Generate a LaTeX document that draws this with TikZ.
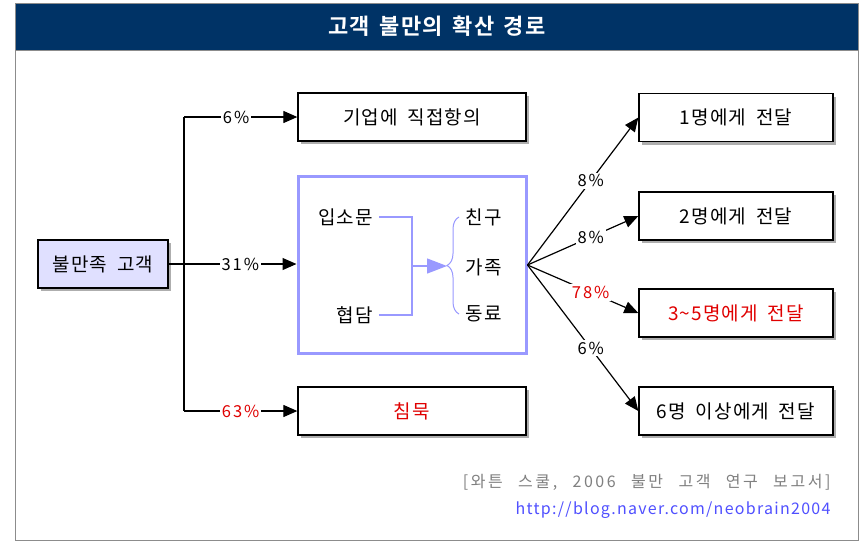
\documentclass[tikz,border=0pt]{standalone}
\usepackage{fontspec}
\setmainfont{Noto Sans CJK KR}
\newfontfamily\kr{Noto Sans CJK KR}[LetterSpace=6,WordSpace=1.8]
\newfontfamily\krp{Noto Sans CJK KR}[LetterSpace=12]
\newfontfamily\krf{Noto Sans CJK KR}[LetterSpace=16,WordSpace=2.5]
\newfontfamily\krb{Noto Sans CJK KR Bold}[LetterSpace=6,WordSpace=1.5]
\newfontfamily\urlf{Noto Sans CJK KR}[LetterSpace=8]
\usetikzlibrary{arrows.meta,shadows,decorations.pathreplacing}
\definecolor{navy}{HTML}{003366}
\definecolor{lav}{HTML}{E0E0FF}
\definecolor{bluebord}{HTML}{9999FF}
\definecolor{myred}{HTML}{E00000}
\definecolor{urlblue}{HTML}{5050FF}
\definecolor{footgray}{HTML}{808080}
\tikzset{
  lbox/.style={draw=black, line width=1.3pt, fill=white, minimum height=48, font=\kr\fontsize{19}{21}\selectfont,
    drop shadow={shadow xshift=3pt,shadow yshift=-3pt,fill=black!45,opacity=0.7}},
  conn/.style={draw=black, line width=1.2pt},
  arr/.style={conn, -{Triangle[length=14pt,width=12pt]}},
  pct/.style={fill=white, inner sep=2pt, font=\krp\fontsize{16.5}{18}\selectfont},
  inner/.style={font=\kr\fontsize{19}{21}\selectfont, inner sep=1pt},
  bl/.style={draw=bluebord, line width=1.2pt},
}
\begin{document}
\begin{tikzpicture}[x=1pt,y=-1pt]
\useasboundingbox (0,0) rectangle (862,542);
\fill[white] (0,0) rectangle (862,542);
% frame and title
\draw[black!45, line width=1pt] (15,3) rectangle (858,540);
\fill[navy] (15,3) rectangle (858,50);
\draw[black!45, line width=1pt] (15,3) rectangle (858,50);
\node[text=white, font=\krb\fontsize{22}{24}\selectfont] (title) at (437,26) {고객 불만의 확산 경로};

% left node
\node[lbox, fill=lav, minimum width=130] (cust) at (103,264) {불만족 고객};

% middle column
\node[lbox, minimum width=228] (direct) at (412,117) {기업에 직접항의};
\node[lbox, minimum width=228] (silent) at (412,411) {\textcolor{myred}{침묵}};
\node[draw=bluebord, line width=3pt, minimum width=228, minimum height=177, inner sep=0pt] (wom) at (412,265) {};

% trunk
\coordinate (jt) at (184,117);
\coordinate (jb) at (184,411);
\draw[conn] (jt) -- (jb);
\draw[arr] (jt) -- node[pct, pos=0.46] (p6) {6\%} (direct.west);
\draw[arr] (jb) -- node[pct, pos=0.5, text=myred] (p63) {63\%} (silent.west);
\draw[arr] (cust.east) -- node[pct, pos=0.56] (p31) {31\%} (cust.east -| wom.west);

% inside blue box
\node[inner, anchor=east] (w1) at (374,217) {입소문};
\node[inner, anchor=east] (w2) at (374,315) {협담};
\coordinate (v) at (412,266);
\coordinate (tip) at (447,266);
\draw[bl] ([xshift=5pt]w1.east) -| (v) |- ([xshift=5pt]w2.east);
\draw[bl, -{Triangle[length=20pt,width=15pt]}] (v) -- (tip);
\draw[bl, line width=1pt, decorate, decoration={brace, amplitude=12pt, aspect=0.5}] (459,314) -- (459,217);
\node[inner] (f1) at (484,217) {친구};
\node[inner] (f2) at (484,267) {가족};
\node[inner] (f3) at (484,314) {동료};

% right column
\node[lbox, minimum width=194] (r1) at (736,117.5) {1명에게 전달};
\node[lbox, minimum width=194] (r2) at (736,216) {2명에게 전달};
\node[lbox, minimum width=194, text=myred] (r3) at (736,313) {3\textasciitilde 5명에게 전달};
\node[lbox, minimum width=194] (r4) at (736,411) {6명 이상에게 전달};

\coordinate (fan) at (wom.east);
\draw[arr] (fan) -- node[pct, pos=0.57] (q1) {8\%} (r1.west);
\draw[arr] (fan) -- node[pct, pos=0.57] (q2) {8\%} (r2.west);
\draw[arr] (fan) -- node[pct, pos=0.57, text=myred] (q3) {78\%} (r3.west);
\draw[arr] (fan) -- node[pct, pos=0.57] (q4) {6\%} (r4.west);

% footer
\node[anchor=east, text=footgray, font=\krf\fontsize{16}{18}\selectfont] (src) at (834,482) {[와튼 스쿨, 2006 불만 고객 연구 보고서]};
\node[anchor=east, text=urlblue, font=\urlf\fontsize{16}{18}\selectfont] (url) at (834,510) {http://blog.naver.com/neobrain2004};
\end{tikzpicture}
\end{document}
